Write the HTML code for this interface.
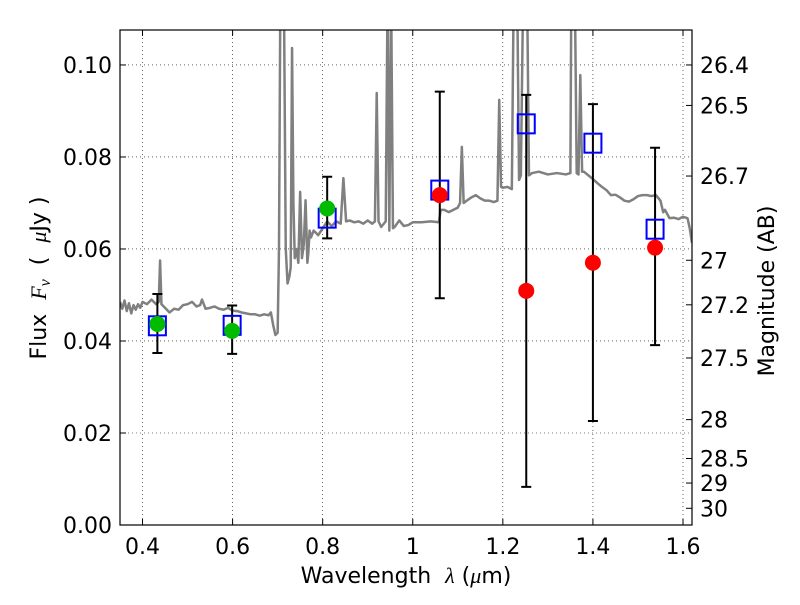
<!DOCTYPE html>
<html><head><meta charset="utf-8"><style>
body{margin:0;background:#fff}
svg text{font-family:"DejaVu Sans","Liberation Sans",sans-serif;fill:#000}
.t{white-space:pre}
</style></head><body>
<svg id="chart" width="800" height="600" xmlns="http://www.w3.org/2000/svg">
<rect width="800" height="600" fill="#fff"/>
<defs><clipPath id="clip"><rect x="120" y="30" width="572" height="495"/></clipPath></defs>
<g id="grid"></g>
<g id="plot"></g>
<g id="axes"></g>
<text class="t" x="406" y="583" text-anchor="middle" font-size="22">Wavelength  <tspan font-style="italic" font-family="Liberation Serif">λ</tspan> (<tspan font-style="italic" font-family="Liberation Serif">μ</tspan>m)</text>
<text class="t" transform="translate(46,278) rotate(-90)" text-anchor="middle" font-size="22">Flux  <tspan font-style="italic" font-family="Liberation Serif">F</tspan><tspan font-style="italic" font-size="16" dy="4" font-family="Liberation Serif">ν</tspan><tspan dy="-4">  (  </tspan><tspan font-style="italic" font-family="Liberation Serif">μ</tspan>Jy )</text>
<text class="t" transform="translate(774,291) rotate(-90)" text-anchor="middle" font-size="22">Magnitude (AB)</text>
</svg>
<script>
const spectrum=[[0.35,0.0485],[0.355,0.047],[0.36,0.0488],[0.365,0.0465],[0.37,0.0482],[0.375,0.046],[0.38,0.0478],[0.385,0.0468],[0.39,0.048],[0.395,0.0472],[0.40,0.0485],[0.41,0.048],[0.42,0.049],[0.43,0.048],[0.436,0.0485],[0.439,0.0575],[0.442,0.048],[0.45,0.0472],[0.46,0.0462],[0.47,0.047],[0.48,0.0468],[0.49,0.0478],[0.50,0.048],[0.51,0.0485],[0.52,0.0475],[0.528,0.0478],[0.532,0.049],[0.54,0.047],[0.55,0.0472],[0.56,0.0475],[0.57,0.047],[0.58,0.0468],[0.59,0.0472],[0.60,0.0466],[0.61,0.0465],[0.62,0.0462],[0.63,0.046],[0.64,0.0458],[0.65,0.0458],[0.66,0.0455],[0.67,0.0458],[0.68,0.0456],[0.685,0.0462],[0.69,0.0435],[0.695,0.0413],[0.70,0.0418],[0.703,0.06],[0.706,0.115],[0.71,0.115],[0.714,0.115],[0.718,0.06],[0.722,0.0525],[0.726,0.054],[0.729,0.056],[0.732,0.1037],[0.735,0.07],[0.738,0.058],[0.742,0.06],[0.746,0.057],[0.75,0.0724],[0.754,0.058],[0.758,0.061],[0.762,0.0706],[0.766,0.057],[0.768,0.059],[0.771,0.064],[0.774,0.0625],[0.78,0.064],[0.79,0.063],[0.80,0.0645],[0.81,0.066],[0.82,0.065],[0.83,0.066],[0.84,0.0655],[0.846,0.0754],[0.852,0.066],[0.86,0.0662],[0.87,0.0658],[0.88,0.066],[0.89,0.0655],[0.90,0.0662],[0.91,0.0655],[0.916,0.066],[0.92,0.0939],[0.924,0.066],[0.93,0.0648],[0.94,0.066],[0.944,0.115],[0.948,0.064],[0.952,0.115],[0.956,0.0645],[0.96,0.0648],[0.97,0.0662],[0.98,0.065],[0.99,0.0652],[1.00,0.0658],[1.02,0.0658],[1.04,0.066],[1.058,0.0658],[1.062,0.0685],[1.07,0.0685],[1.08,0.068],[1.09,0.0685],[1.10,0.069],[1.105,0.07],[1.109,0.0822],[1.113,0.070],[1.12,0.0705],[1.13,0.0712],[1.14,0.0717],[1.15,0.071],[1.16,0.0705],[1.17,0.0705],[1.18,0.0702],[1.188,0.0705],[1.192,0.0924],[1.196,0.0735],[1.20,0.0733],[1.21,0.0735],[1.22,0.073],[1.224,0.115],[1.228,0.115],[1.232,0.115],[1.236,0.075],[1.24,0.076],[1.245,0.115],[1.25,0.115],[1.254,0.115],[1.258,0.076],[1.265,0.0765],[1.28,0.0768],[1.30,0.0762],[1.32,0.0765],[1.34,0.0762],[1.35,0.0765],[1.352,0.115],[1.356,0.115],[1.36,0.115],[1.364,0.0765],[1.368,0.0762],[1.372,0.0978],[1.376,0.0768],[1.38,0.0768],[1.39,0.076],[1.40,0.0752],[1.41,0.0743],[1.42,0.0735],[1.43,0.0728],[1.44,0.0717],[1.45,0.0718],[1.46,0.0712],[1.47,0.0705],[1.48,0.0703],[1.49,0.0708],[1.50,0.0715],[1.51,0.0717],[1.52,0.0717],[1.53,0.0715],[1.54,0.0717],[1.55,0.0705],[1.556,0.068],[1.56,0.0685],[1.57,0.0667],[1.58,0.0668],[1.59,0.0665],[1.60,0.067],[1.61,0.0667],[1.615,0.0645],[1.62,0.0613]];
const modelWave=[0.433,0.599,0.81,1.06,1.252,1.40,1.538];
const modelFlux=[0.0433,0.0434,0.0667,0.0728,0.0872,0.083,0.0643];
const errWave=[0.433,0.599,0.81,1.06,1.252,1.40,1.538];
const errLow=[0.0374,0.0372,0.0623,0.0493,0.0083,0.0226,0.0391];
const errHigh=[0.0502,0.0477,0.0757,0.0942,0.0935,0.0915,0.082];
const greenWave=[0.433,0.599,0.81];
const greenFlux=[0.0437,0.0422,0.0688];
const redWave=[1.06,1.252,1.40,1.538];
const redFlux=[0.0717,0.0509,0.057,0.0603];
const xTicks=[0.4,0.6,0.8,1.0,1.2,1.4,1.6];
const xTickLabels=["0.4","0.6","0.8","1","1.2","1.4","1.6"];
const yTicks=[0,0.02,0.04,0.06,0.08,0.10];
const yTickLabels=["0.00","0.02","0.04","0.06","0.08","0.10"];
const magTicks=[26.4,26.5,26.7,27,27.2,27.5,28,28.5,29,30];

const L=120,R=692,T=30,B=525,xmin=0.35,xmax=1.62,ymin=0,ymax=0.1076;
const X=v=>L+(v-xmin)/(xmax-xmin)*(R-L);
const Y=v=>B-(v-ymin)/(ymax-ymin)*(B-T);
const NS="http://www.w3.org/2000/svg";
function mk(tag,attrs,parent){const e=document.createElementNS(NS,tag);for(const k in attrs)e.setAttribute(k,attrs[k]);parent.appendChild(e);return e;}
const grid=document.getElementById('grid'),plot=document.getElementById('plot'),axes=document.getElementById('axes');

xTicks.forEach((t,i)=>{
 const g=mk('line',{x1:X(t),x2:X(t),y1:T,y2:B,stroke:'#000','stroke-width':0.6,'stroke-dasharray':'1,3'},grid);
 
 
 const tk=mk('line',{x1:X(t),x2:X(t),y1:B,y2:B-6,stroke:'#000'},axes);
 
 
 const tk2=mk('line',{x1:X(t),x2:X(t),y1:T,y2:T+6,stroke:'#000'},axes);
 
 
 const tx=mk('text',{x:X(t),y:B+29,'text-anchor':'middle','font-size':22},axes);tx.textContent=xTickLabels[i];
 
 
});
yTicks.forEach((t,i)=>{
 const g=mk('line',{x1:L,x2:R,y1:Y(t),y2:Y(t),stroke:'#000','stroke-width':0.6,'stroke-dasharray':'1,3'},grid);
 
 
 const tk=mk('line',{x1:L,x2:L+6,y1:Y(t),y2:Y(t),stroke:'#000'},axes);
 
 
 const tx=mk('text',{x:L-8,y:Y(t)+8,'text-anchor':'end','font-size':22},axes);tx.textContent=yTickLabels[i];
 
 
});
magTicks.forEach(m=>{
 const f=Math.pow(10,(23.9-m)/2.5);const y=Y(f);
 const tk=mk('line',{x1:R-6,x2:R,y1:y,y2:y,stroke:'#000'},axes);
 
 
 const tx=mk('text',{x:R+8,y:y+8,'font-size':22},axes);tx.textContent=String(m);
 
 
});
const pg=mk('g',{'clip-path':'url(#clip)'},plot);
const sp=mk('polyline',{points:spectrum.map(p=>X(p[0])+','+Y(p[1])).join(' '),fill:'none',stroke:'#808080','stroke-width':2.5,'stroke-linejoin':'round'},pg);


errWave.forEach((w,i)=>{
 const x=X(w);
 const e=mk('path',{d:`M${x},${Y(errLow[i])}V${Y(errHigh[i])}M${x-5},${Y(errLow[i])}H${x+5}M${x-5},${Y(errHigh[i])}H${x+5}`,stroke:'#000','stroke-width':2,fill:'none'},pg);
 
 
});
modelWave.forEach((w,i)=>{
 const s=mk('rect',{x:X(w)-8.5,y:Y(modelFlux[i])-9.5,width:17,height:19,fill:'none',stroke:'#0000ff','stroke-width':2},pg);
 
 
});
greenWave.forEach((w,i)=>{
 const c=mk('circle',{cx:X(w),cy:Y(greenFlux[i]),r:8,fill:'#00bb00'},pg);
 
 
});
redWave.forEach((w,i)=>{
 const c=mk('circle',{cx:X(w),cy:Y(redFlux[i]),r:8,fill:'#ff0000'},pg);
 
 
});
const fr=mk('rect',{x:L,y:T,width:R-L,height:B-T,fill:'none',stroke:'#000','stroke-width':1.2},axes);


</script>
</body></html>
